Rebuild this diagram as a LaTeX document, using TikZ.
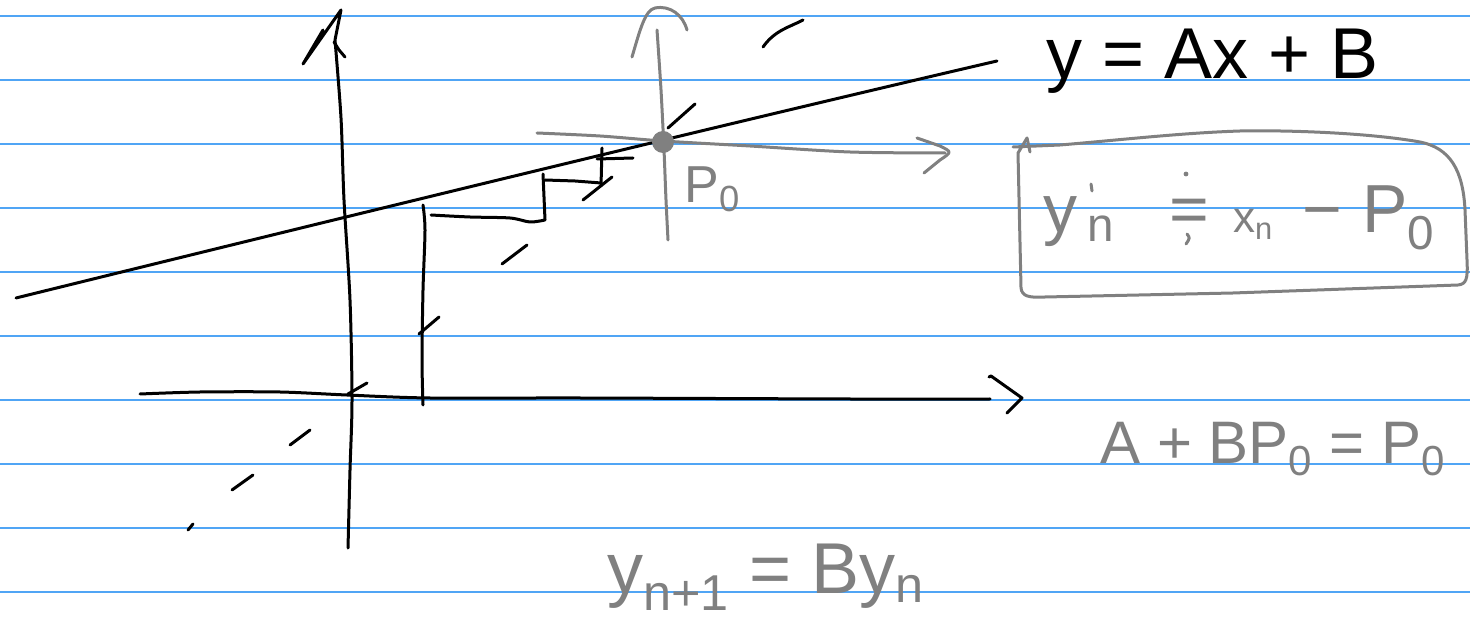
\documentclass[tikz,border=0pt]{standalone}
\usepackage{fontspec}
\setmainfont{Liberation Sans}
\definecolor{rulecol}{RGB}{80,165,245}
\definecolor{pencil}{RGB}{128,128,128}
\begin{document}
\begin{tikzpicture}[x=0.5pt,y=-0.5pt,
  ruled/.style={draw=rulecol, line width=1pt},
  blackink/.style={draw=black, line width=1.5pt, line cap=round, line join=round},
  grayink/.style={draw=pencil, line width=1.5pt, line cap=round, line join=round},
  blacktext/.style={inner sep=0pt, anchor=base west, text=black},
  graytext/.style={inner sep=0pt, anchor=base west, text=pencil}]
\fill[white] (0,0) rectangle (1470,624);
\useasboundingbox (0,0) rectangle (1470,624);
% ruled paper
\foreach \k in {0,...,9} \draw[ruled] (0,16+64*\k) -- (1470,16+64*\k);

% main line y = Ax + B
\draw[blackink] (16,298) .. controls (300,228) and (700,130) .. (997,61);

% left vertical axis with hand-drawn arrow
\draw[blackink] (323,30) -- (303,64) -- (341,10) -- (335,40)
  plot[smooth] coordinates {(335,40) (341,118) (344,200) (350,300) (352,400) (350,470) (348,548)};
\draw[blackink] (334,42) -- (339,50) -- (345,57);

% horizontal axis
\draw[blackink] plot[smooth] coordinates {(140,394) (200,392) (280,392) (347,395) (430,398) (580,398) (850,399) (990,399)};
\draw[blackink] (989,377) -- (991,376) -- (1022,398) -- (1007,413);

% vertical at x0
\draw[blackink] plot[smooth] coordinates {(423,205) (425,230) (423,290) (422,360) (423,405)};

% staircase
\draw[blackink] plot[smooth] coordinates {(431,215) (470,217) (510,218) (530,222) (545,220)} -- (543,174);
\draw[blackink] (545,180) -- (575,181) -- (601,183);
\draw[blackink] (602,148) -- (601,186);
\draw[blackink] (597,159) -- (633,158);

% dashed diagonal (hand-drawn dashes)
\draw[blackink] (188,530) -- (193,524);
\draw[blackink] (232,490) -- (253,475);
\draw[blackink] (290,445) -- (310,430);
\draw[blackink] (348,394) -- (367,383);
\draw[blackink] (419,334) -- (439,317);
\draw[blackink] (502,264) -- (527,245);
\draw[blackink] (583,200) -- (612,177);
\draw[blackink] (668,128) -- (695,104);
\draw[blackink] (763,47) .. controls (775,30) and (790,27) .. (803,20);

% local axes at P0 (gray)
\draw[grayink] plot[smooth] coordinates {(657,30) (661,90) (664,150) (666,200) (668,240)};
\draw[grayink] (632,57) .. controls (640,30) and (645,10) .. (655,8) .. controls (670,5) and (683,15) .. (687,30);
\draw[grayink] plot[smooth] coordinates {(537,133) (600,136) (663,141) (750,146) (850,152) (945,153)};
\draw[grayink] (917,138) -- (940,146) .. controls (952,152) .. (940,160) -- (924,173);
\fill[pencil] (663,142) circle[radius=5.5pt];

% texts
\node[blacktext, font=\fontsize{36}{40}\selectfont] (eqline) at (1046,79) {y = Ax + B};
\node[graytext, font=\fontsize{26}{30}\selectfont] (plabel) at (684,203) {P\textsubscript{0}};
\node[graytext, font=\fontsize{34}{40}\selectfont] (boxeq) at (1043,233)
  {y\kern0.15em\textsubscript{n}\hspace{0.8em}=\hspace{0.35em}{\fontsize{22}{24}\selectfont x\textsubscript{n}}\hspace{0.43em}−\hspace{0.3em}P\textsubscript{0}};
\node[graytext, font=\fontsize{30}{36}\selectfont] (fixpt) at (1100,463) {A + BP\textsubscript{0} = P\textsubscript{0}};
\node[graytext, font=\fontsize{36}{40}\selectfont] (recur) at (607,593) {y\textsubscript{n+1} = By\textsubscript{n}};

% pen marks around the boxed relation
\draw[grayink] (1091,184) -- (1092,191);
\fill[pencil] (1186,174) circle[radius=1.2pt];
\draw[grayink] (1187,234) .. controls (1190,238) .. (1186,244);

% hand-drawn box
\draw[grayink] (1027,138) -- (1030,152);
\draw[grayink] (1013,147) -- (1060,145) .. controls (1120,140) and (1180,133) .. (1240,131)
  .. controls (1290,130) and (1370,133) .. (1420,142)
  .. controls (1450,148) and (1463,170) .. (1465,210) -- (1467,260)
  .. controls (1468,280) and (1466,284) .. (1458,285) -- (1233,293) -- (1045,297)
  .. controls (1028,298) and (1022,296) .. (1021,288) -- (1018,153) -- (1027,138);
\end{tikzpicture}
\end{document}
